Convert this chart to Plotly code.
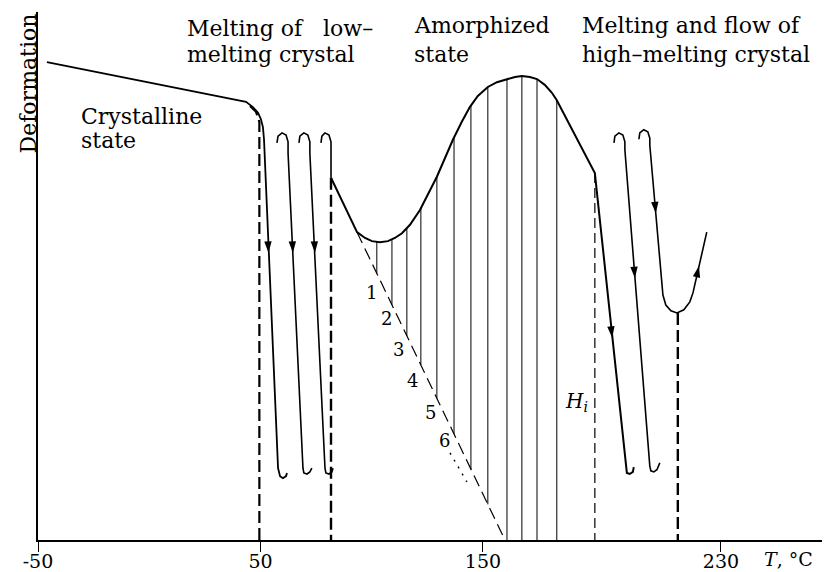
import numpy as np
import plotly.graph_objects as go

# x: temperature (schematic scale, deg C); y: deformation (arbitrary units, 0..100)
tick_vals = [-50, 50, 150, 257]
tick_text = ["-50", "50", "150", "230"]

# crystalline branch + first drop
cryst_T = [-46.0, 40.8, 43.5, 46.6, 48.9, 50.2, 51.1, 51.6, 57.9, 58.8, 60.1, 61.5, 61.9]
cryst_D = [90.5, 83.3, 83.0, 82.0, 80.9, 79.7, 78.2, 75.8, 13.6, 12.1, 11.7, 12.1, 12.7]

knee_T = [45.3, 48.0, 49.5, 49.5]
knee_D = [82.2, 81.1, 79.2, 0.0]

loop2_T = [57.4, 57.9, 59.7, 61.5, 62.4, 62.4, 69.1, 69.5, 70.9, 72.2, 73.1]
loop2_D = [75.2, 76.5, 77.1, 76.7, 75.4, 73.3, 13.6, 12.7, 12.5, 12.9, 13.6]
loop3_T = [67.3, 67.7, 69.5, 71.3, 72.2, 72.2, 79.0, 79.4, 80.8, 82.1, 82.6]
loop3_D = [75.2, 76.5, 77.1, 76.7, 75.4, 73.3, 13.6, 12.7, 12.5, 12.9, 13.6]
loop4_T = [77.2, 77.6, 79.0, 80.8, 81.7, 81.7]
loop4_D = [75.2, 76.5, 77.1, 76.7, 75.4, 68.6]

# amorphized state curve and first high-T drop
amorph_T = [81.7, 93.4, 97.0, 100.1, 103.7, 107.3, 110.4, 113.6, 117.2, 121.7, 129.3, 136.5,
            140.5, 144.1, 147.7, 152.2, 156.3, 160.8, 164.4, 167.5, 171.1, 174.3, 177.8, 181.0,
            183.2, 200.3, 214.2, 214.7, 216.0, 217.4, 217.8]
amorph_D = [68.6, 58.3, 57.2, 56.6, 56.4, 56.6, 57.2, 58.1, 59.7, 62.5, 68.8, 75.8,
            79.2, 82.0, 84.1, 85.8, 86.7, 87.3, 87.7, 87.9, 87.7, 87.3, 86.2, 84.7,
            83.3, 69.5, 13.6, 12.7, 12.5, 12.9, 13.8]

loopR2_T = [208.9, 209.3, 211.1, 212.9, 213.8, 213.8, 225.0, 225.5, 226.8, 228.2, 229.5]
loopR2_D = [75.2, 76.5, 77.1, 76.7, 75.4, 73.9, 14.0, 13.1, 12.9, 13.3, 14.6]
loopR3_T = [220.1, 220.5, 222.3, 224.1, 225.0, 225.0, 230.9, 232.2, 234.5, 237.2, 240.3, 243.0, 244.4, 250.6]
loopR3_D = [75.9, 77.1, 77.7, 77.3, 76.1, 74.8, 46.4, 44.5, 43.4, 43.0, 43.6, 45.1, 46.8, 58.3]

# dashed reference lines
thick_dash_T = [81.7, 237.6]
thick_dash_D = [68.6, 43.0]
hi_T = 200.3
hi_D = 69.5
diag_T = [93.4, 159.9]
diag_D = [58.3, 0.0]
dot_T = [135.2, 142.8]
dot_D = [16.5, 11.0]

# hatching positions
hatch_T = [102.3, 109.1, 115.8, 122.1, 129.3, 137.0, 144.6, 152.2, 160.8, 167.5, 174.3, 183.2]

# numbered labels along diagonal
num_text = ["1", "2", "3", "4", "5", "6"]
num_T = [100.1, 106.8, 112.2, 118.5, 126.2, 132.9]
num_D = [46.8, 42.0, 36.0, 30.3, 24.2, 18.9]

# arrows: head (T, D) and tail (T, D)
arrow_head_T = [53.6, 64.6, 74.5, 208.1, 218.3, 227.7, 247.1]
arrow_head_D = [54.4, 54.4, 54.4, 38.3, 49.6, 61.9, 51.9]
arrow_tail_T = [53.2, 64.1, 74.0, 207.1, 217.6, 226.9, 245.1]
arrow_tail_D = [58.1, 58.1, 58.1, 42.0, 53.4, 65.7, 48.1]

FONT = "DejaVu Serif"
fig = go.Figure()


def add_line(x, y, w=1.8, dash="solid"):
    fig.add_trace(go.Scatter(x=x, y=y, mode="lines",
                             line=dict(color="black", width=w, dash=dash),
                             hoverinfo="skip", showlegend=False))


add_line(cryst_T, cryst_D, 1.8)
add_line(knee_T, knee_D, 2.2, "12px,5px")
add_line(loop2_T, loop2_D, 1.6)
add_line(loop3_T, loop3_D, 1.6)
add_line(loop4_T, loop4_D, 1.6)
add_line(amorph_T, amorph_D, 2.0)
add_line(loopR2_T, loopR2_D, 1.6)
add_line(loopR3_T, loopR3_D, 1.6)
for t, d in zip(thick_dash_T, thick_dash_D):
    add_line([t, t], [d, 0], 2.4, "12px,5px")
add_line([hi_T, hi_T], [hi_D, 0], 1.2, "10px,5px")
add_line(diag_T, diag_D, 1.2, "12px,6px")
add_line(dot_T, dot_D, 1.4, "2px,6px")

tops = np.interp(hatch_T, amorph_T, amorph_D)
bots = np.clip(np.interp(hatch_T, diag_T, diag_D), 0, None)
hx, hy = [], []
for t, a, b in zip(hatch_T, tops, bots):
    hx += [t, t, None]
    hy += [a, b, None]
add_line(hx, hy, 1.0)

# arrowheads oriented along each branch
for ht, hd, tt, td in zip(arrow_head_T, arrow_head_D, arrow_tail_T, arrow_tail_D):
    fig.add_trace(go.Scatter(
        x=[tt, ht], y=[td, hd], mode="markers", hoverinfo="skip", showlegend=False,
        marker=dict(symbol="arrow", size=[0, 12], color="black", opacity=[0, 1],
                    angleref="previous", line=dict(width=0)),
    ))

annotations = []
for s, t, d in zip(num_text, num_T, num_D):
    annotations.append(dict(x=t, y=d, text=s, showarrow=False, xref="x", yref="y",
                            font=dict(family=FONT, size=18, color="black")))

labels = [
    ("Melting of\u00a0\u00a0 low\u2013", 16.1, 96.8),
    ("melting crystal", 16.1, 91.9),
    ("Amorphized", 118.1, 97.5),
    ("state", 118.1, 92.0),
    ("Melting and flow of", 193.6, 97.5),
    ("high\u2013melting crystal", 193.6, 92.0),
    ("Crystalline", -31.6, 80.2),
    ("state", -31.6, 75.7),
]
for s, t, d in labels:
    annotations.append(dict(x=t, y=d, text=s, showarrow=False, xref="x", yref="y",
                            xanchor="left", yanchor="middle",
                            font=dict(family=FONT, size=22, color="black")))

annotations.append(dict(x=-0.0121, y=0.8655, text="Deformation", textangle=-90, showarrow=False,
                        xref="paper", yref="paper", xanchor="center", yanchor="middle",
                        font=dict(family=FONT, size=22, color="black")))
annotations.append(dict(x=192.2, y=26.1, text="<i>H</i><sub><i>i</i></sub>", showarrow=False,
                        xref="x", yref="y", font=dict(family=FONT, size=20, color="black")))
annotations.append(dict(x=0.9154, y=-0.0587, text="<i>T</i>, \u00b0C", showarrow=False,
                        xref="paper", yref="paper", xanchor="left", yanchor="bottom",
                        borderpad=0,
                        font=dict(family=FONT, size=19, color="black")))

fig.update_layout(
    width=822, height=564,
    margin=dict(l=30, r=0, t=4, b=32, autoexpand=False),
    paper_bgcolor="white", plot_bgcolor="white",
    font=dict(family=FONT, color="black"),
    annotations=annotations,
    xaxis=dict(range=[-50, 306], tickvals=tick_vals, ticktext=tick_text, ticks="outside",
               ticklen=10, tickwidth=1.3, tickcolor="black", showline=True, linewidth=2,
               linecolor="black", showgrid=False, zeroline=False, automargin=False,
               ticklabelstandoff=-7,
               tickfont=dict(family=FONT, size=19, color="black")),
    yaxis=dict(range=[0, 100], showline=True, linewidth=1.5, linecolor="black",
               showticklabels=False, ticks="", showgrid=False, zeroline=False, automargin=False),
)

fig.write_html("out.html")
